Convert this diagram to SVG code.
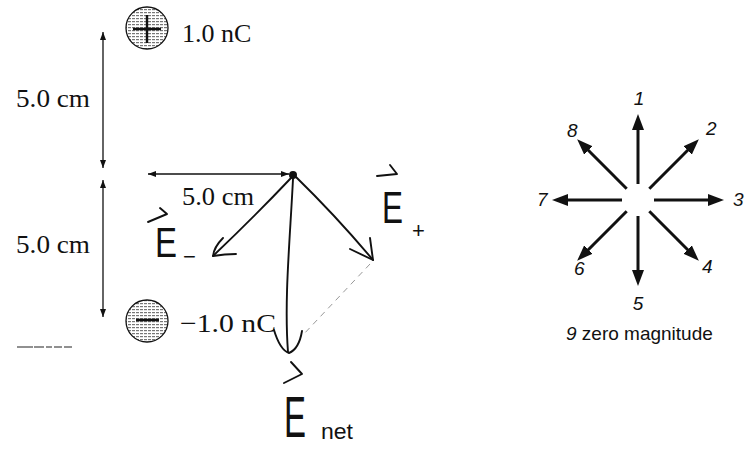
<svg xmlns="http://www.w3.org/2000/svg" width="753" height="453" viewBox="0 0 753 453">
<style>
.serif{font-family:"Liberation Serif","Times New Roman",serif;font-size:26px;fill:#111}
.hand{font-family:"Liberation Sans",Arial,sans-serif;fill:#111}
.ink{fill:none;stroke:#111;stroke-width:1.9;stroke-linecap:round;stroke-linejoin:round}
.dim{fill:none;stroke:#111;stroke-width:1.3}
.cmp{stroke:#111;stroke-width:3}
.lbl{font-family:"Liberation Sans",Arial,sans-serif;font-size:19px;font-style:italic;fill:#111}
.cap{font-family:"Liberation Sans",Arial,sans-serif;font-size:19px;fill:#111}
</style>
<defs>
<pattern id="hatch" width="4" height="3" patternUnits="userSpaceOnUse">
<rect width="4" height="3" fill="#fff"/>
<rect width="3" height="1.2" fill="#777"/>
</pattern>
<marker id="dimhead" viewBox="0 0 8 6" refX="8" refY="3" markerWidth="8" markerHeight="6" markerUnits="userSpaceOnUse" orient="auto-start-reverse">
<path d="M0,0 L8,3 L0,6 z" fill="#111"/>
</marker>
<marker id="bighead" viewBox="0 0 16 12" refX="8" refY="6" markerWidth="16" markerHeight="12" markerUnits="userSpaceOnUse" orient="auto">
<path d="M0,0 L16,6 L0,12 z" fill="#111"/>
</marker>
</defs>

<g id="charge-pos">
<circle cx="147" cy="28" r="21" fill="url(#hatch)" stroke="#111" stroke-width="1.3"/>
<path d="M133,29 H161 M147,15 V43" stroke="#111" stroke-width="2.4" fill="none"/>
<text class="serif" x="182" y="42">1.0 nC</text>
</g>

<g id="charge-neg">
<circle cx="147" cy="321" r="21" fill="url(#hatch)" stroke="#111" stroke-width="1.3"/>
<path d="M136,320 H159" stroke="#111" stroke-width="2.6" fill="none"/>
<text class="serif" x="180" y="332" textLength="96" lengthAdjust="spacingAndGlyphs">−1.0 nC</text>
</g>

<g id="point">
<circle cx="293" cy="175" r="4" fill="#111"/>
</g>

<g id="dimensions">
<line class="dim" x1="103" y1="32" x2="103" y2="168" marker-start="url(#dimhead)" marker-end="url(#dimhead)"/>
<line class="dim" x1="103" y1="180" x2="103" y2="317" marker-start="url(#dimhead)" marker-end="url(#dimhead)"/>
<line class="dim" x1="148" y1="174" x2="289" y2="174" marker-start="url(#dimhead)" marker-end="url(#dimhead)"/>
<text class="serif" x="16" y="107" textLength="74" lengthAdjust="spacingAndGlyphs">5.0 cm</text>
<text class="serif" x="16" y="253" textLength="74" lengthAdjust="spacingAndGlyphs">5.0 cm</text>
<text class="serif" x="182" y="205" textLength="72" lengthAdjust="spacingAndGlyphs">5.0 cm</text>
<line x1="17" y1="347" x2="72" y2="347" stroke="#222" stroke-width="1.2" stroke-dasharray="16 1 10 2 6 2 8 2"/>
</g>

<g id="connectors">
<path class="ink" d="M291,178 Q255,216 213,256"/>
<path class="ink" d="M223,238 Q214,247 213,256 Q225,254 236,254"/>
<path class="ink" d="M296,177 Q336,216 373,260"/>
<path class="ink" d="M350,249 L373,260 L370,238"/>
<path class="ink" d="M293,179 C290,240 284,300 288,352"/>
<path class="ink" d="M274,330 Q280,350 289,353 Q299,349 302,331"/>
<path d="M370,264 L302,336" fill="none" stroke="#999" stroke-width="1" stroke-dasharray="6 5"/>
</g>

<g id="label-eminus">
<path class="ink" d="M148,222 L167,214 L160,208"/>
<text class="hand" x="155" y="257" font-size="42" textLength="22" lengthAdjust="spacingAndGlyphs">E</text>
<text class="hand" x="183" y="264" font-size="22">−</text>
</g>

<g id="label-eplus">
<path class="ink" d="M377,176 L397,174 L390,165"/>
<text class="hand" x="382" y="223" font-size="44" textLength="21" lengthAdjust="spacingAndGlyphs">E</text>
<text class="hand" x="412" y="238" font-size="22">+</text>
</g>

<g id="label-enet">
<path class="ink" d="M291,362 L302,374 L284,383"/>
<text class="hand" x="284" y="437" font-size="58" textLength="22" lengthAdjust="spacingAndGlyphs">E</text>
<text class="hand" x="321" y="439" font-size="22" textLength="32" lengthAdjust="spacingAndGlyphs">net</text>
</g>

<g id="compass">
<line class="cmp" x1="638" y1="184" x2="638" y2="122" marker-end="url(#bighead)"/>
<line class="cmp" x1="649.3" y1="188.7" x2="693.2" y2="144.8" marker-end="url(#bighead)"/>
<line class="cmp" x1="654" y1="200" x2="716" y2="200" marker-end="url(#bighead)"/>
<line class="cmp" x1="649.3" y1="211.3" x2="693.2" y2="255.2" marker-end="url(#bighead)"/>
<line class="cmp" x1="638" y1="216" x2="638" y2="278" marker-end="url(#bighead)"/>
<line class="cmp" x1="626.7" y1="211.3" x2="582.8" y2="255.2" marker-end="url(#bighead)"/>
<line class="cmp" x1="622" y1="200" x2="560" y2="200" marker-end="url(#bighead)"/>
<line class="cmp" x1="626.7" y1="188.7" x2="582.8" y2="144.8" marker-end="url(#bighead)"/>
<text class="lbl" x="639" y="105" text-anchor="middle">1</text>
<text class="lbl" x="706" y="135">2</text>
<text class="lbl" x="733" y="206">3</text>
<text class="lbl" x="702" y="273">4</text>
<text class="lbl" x="638" y="310" text-anchor="middle">5</text>
<text class="lbl" x="574" y="275">6</text>
<text class="lbl" x="537" y="206">7</text>
<text class="lbl" x="567" y="137">8</text>
<text class="cap" x="566" y="340"><tspan font-style="italic">9</tspan> zero magnitude</text>
</g>
</svg>
